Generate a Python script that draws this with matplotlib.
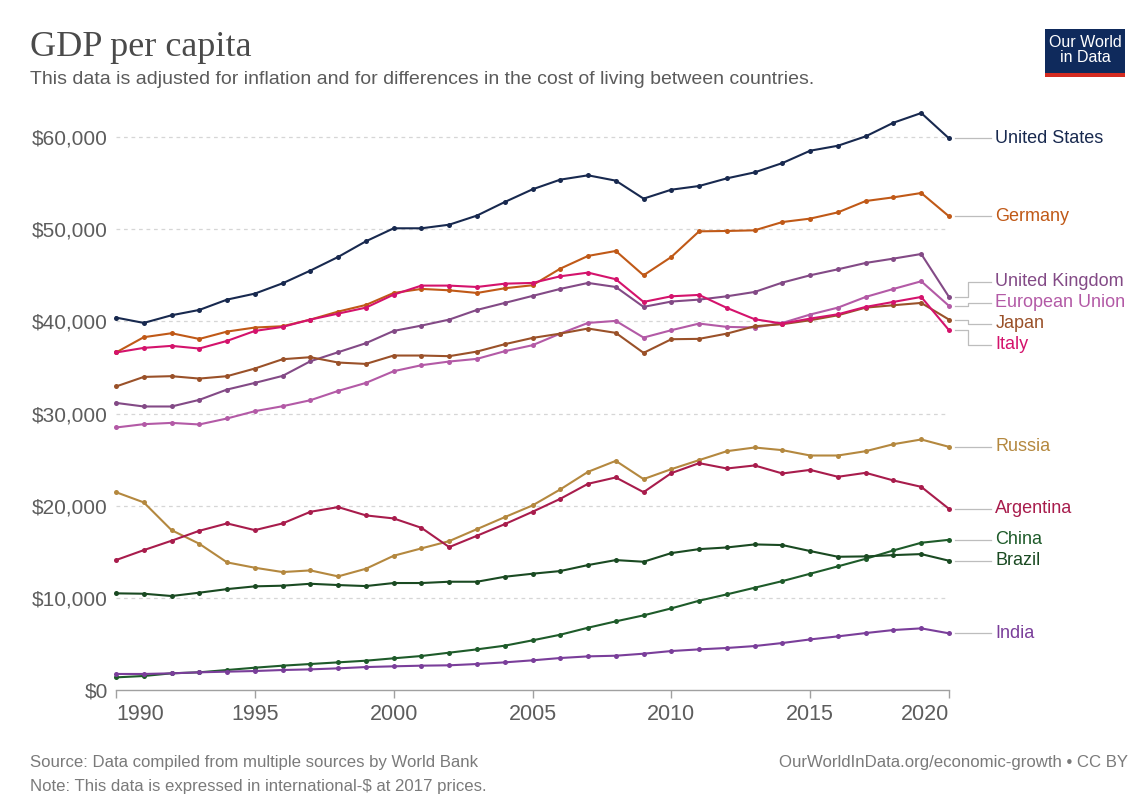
import numpy as np
import matplotlib
matplotlib.use("Agg")
import matplotlib.pyplot as plt
from matplotlib.patches import Rectangle

years = list(range(1990, 2021))

united_states = [40420, 39840, 40670, 41250, 42370, 43020, 44140, 45520, 47000, 48700,
                 50110, 50110, 50500, 51490, 52960, 54340, 55390, 55860, 55280, 53330,
                 54300, 54700, 55530, 56180, 57190, 58530, 59070, 60090, 61570, 62620, 59870]
germany = [36630, 38290, 38720, 38100, 38900, 39340, 39480, 40200, 41070, 41790,
           43090, 43530, 43380, 43090, 43600, 43930, 45730, 47110, 47650, 45010,
           47000, 49780, 49820, 49890, 50790, 51160, 51840, 53070, 53470, 53940, 51410]
united_kingdom = [31160, 30770, 30770, 31490, 32610, 33330, 34090, 35680, 36660, 37640,
                  38970, 39550, 40200, 41250, 42010, 42770, 43530, 44180, 43740, 41580,
                  42160, 42370, 42730, 43200, 44220, 45010, 45660, 46350, 46820, 47320, 42660]
european_union = [28490, 28850, 28990, 28820, 29470, 30260, 30800, 31450, 32460, 33330,
                  34600, 35250, 35650, 35940, 36770, 37420, 38680, 39840, 40060, 38250,
                  39050, 39770, 39410, 39340, 39840, 40750, 41500, 42660, 43530, 44360, 41690]
japan = [32940, 33980, 34060, 33800, 34060, 34890, 35900, 36120, 35540, 35390,
         36300, 36300, 36230, 36730, 37530, 38210, 38680, 39230, 38760, 36590,
         38070, 38110, 38680, 39480, 39700, 40130, 40670, 41500, 41760, 42010, 40200]
italy = [36630, 37130, 37350, 37060, 37890, 38970, 39410, 40200, 40850, 41500,
         42910, 43890, 43890, 43740, 44100, 44180, 44900, 45300, 44580, 42120,
         42730, 42880, 41470, 40240, 39770, 40310, 40780, 41580, 42120, 42660, 39050]
russia = [21470, 20360, 17350, 15870, 13850, 13270, 12800, 12980, 12330, 13160,
          14570, 15370, 16160, 17460, 18760, 20030, 21770, 23680, 24870, 22890,
          23970, 24950, 25920, 26320, 26030, 25450, 25450, 25920, 26680, 27190, 26390]
argentina = [14100, 15180, 16200, 17280, 18080, 17350, 18080, 19340, 19850, 18950,
             18620, 17600, 15510, 16740, 18000, 19340, 20750, 22380, 23070, 21470,
             23540, 24620, 24040, 24370, 23500, 23890, 23140, 23570, 22740, 22050, 19660]
china = [1370, 1520, 1810, 1920, 2170, 2420, 2640, 2820, 3000, 3180,
         3440, 3690, 4050, 4410, 4810, 5390, 6000, 6760, 7450, 8100,
         8860, 9690, 10380, 11100, 11820, 12620, 13420, 14240, 15150, 15980, 16300]
brazil = [10490, 10450, 10200, 10560, 10950, 11250, 11320, 11530, 11390, 11280,
          11610, 11610, 11750, 11750, 12290, 12620, 12910, 13560, 14100, 13920,
          14860, 15290, 15470, 15800, 15730, 15080, 14460, 14500, 14640, 14750, 14030]
india = [1740, 1740, 1810, 1920, 1990, 2060, 2170, 2240, 2350, 2490,
         2570, 2640, 2680, 2820, 3000, 3220, 3470, 3650, 3720, 3940,
         4230, 4410, 4560, 4770, 5100, 5490, 5820, 6180, 6510, 6690, 6150]

countries = ["United States", "Germany", "United Kingdom", "European Union", "Japan",
             "Italy", "Russia", "Argentina", "China", "Brazil", "India"]
series = [united_states, germany, united_kingdom, european_union, japan,
          italy, russia, argentina, china, brazil, india]
colors = ["#18294f", "#c05917", "#834a86", "#b35aa6", "#9a5129",
          "#d4136c", "#b4883f", "#a81c4c", "#1e5b2a", "#1a4a22", "#7a3e9a"]

y_ticks = [0, 10000, 20000, 30000, 40000, 50000, 60000]
x_ticks = [1990, 1995, 2000, 2005, 2010, 2015, 2020]

plt.rcParams["font.family"] = ["Liberation Sans", "DejaVu Sans"]

fig = plt.figure(figsize=(11.35, 8.01), dpi=100)
fig.patch.set_facecolor("white")
ax = fig.add_axes([116 / 1135, 111 / 801, 833 / 1135, 586 / 801])

for vals, col in zip(series, colors):
    ax.plot(years, vals, color=col, lw=1.5, marker="o", ms=3.6,
            markeredgewidth=0, clip_on=False, zorder=3)

ax.set_xlim(1990, 2020)
ax.set_ylim(0, 63600)

# grid and axes styling
for v in y_ticks[1:]:
    ax.axhline(v, color="#d6d6d6", lw=0.9, ls=(0, (3, 3)), zorder=1)
for s in ["top", "right", "left"]:
    ax.spines[s].set_visible(False)
ax.spines["bottom"].set_color("#a0a0a0")
ax.spines["bottom"].set_linewidth(1.0)

ax.set_yticks(y_ticks)
ax.set_yticklabels([f"${v:,}" for v in y_ticks])
ax.tick_params(axis="y", length=0, pad=6, labelsize=15, labelcolor="#5d5d5d")
ax.set_xticks(x_ticks)
ax.set_xticklabels([str(x) for x in x_ticks])
ax.tick_params(axis="x", length=6, width=1, color="#a0a0a0", pad=4,
               labelsize=15.5, labelcolor="#5d5d5d")
xl = ax.get_xticklabels()
xl[0].set_horizontalalignment("left")
xl[-1].set_horizontalalignment("right")

# end-of-line labels with simple vertical dodging
ends = [s[-1] for s in series]
gap = 2280


def group_top(g):
    return np.mean([ends[i] for i in g]) + gap * (len(g) - 1) / 2


groups = [[i] for i in sorted(range(len(ends)), key=lambda i: -ends[i])]
changed = True
while changed:
    changed = False
    merged = [groups[0]]
    for g in groups[1:]:
        pg = merged[-1]
        pbottom = group_top(pg) - gap * (len(pg) - 1)
        if pbottom - group_top(g) < gap - 1e-6:
            merged[-1] = pg + g
            changed = True
        else:
            merged.append(g)
    groups = merged

pos = {}
for g in groups:
    top = group_top(g)
    for k, i in enumerate(g):
        pos[i] = top - gap * k

x_end = years[-1]
x0, xm, x1, xt = x_end + 0.22, x_end + 0.68, x_end + 1.5, x_end + 1.67
for i, name in enumerate(countries):
    ye, yl = ends[i], pos[i]
    if abs(ye - yl) < 300:
        ax.plot([x0, x1], [ye, ye], color="#bdbdbd", lw=0.9, clip_on=False)
    else:
        ax.plot([x0, xm, xm, x1], [ye, ye, yl, yl], color="#bdbdbd", lw=0.9,
                clip_on=False)
    ax.text(xt, yl, name, color=colors[i], fontsize=13, va="center", ha="left",
            clip_on=False)

# header
fig.text(30 / 1135, 1 - 47 / 801, "GDP per capita", fontsize=26,
         family=["Liberation Serif", "DejaVu Serif"], color="#4a4a4a", va="center")
fig.text(30 / 1135, 1 - 80 / 801,
         "This data is adjusted for inflation and for differences in the cost of living between countries.",
         fontsize=14, color="#5b5b5b", va="center")

# logo
lx, ly, lw_, lh = 1045 / 1135, 1 - 77 / 801, 80 / 1135, 48 / 801
fig.patches.append(Rectangle((lx, ly + 4 / 801), lw_, lh - 4 / 801,
                             transform=fig.transFigure, facecolor="#0f2a5c",
                             edgecolor="none"))
fig.patches.append(Rectangle((lx, ly), lw_, 4 / 801, transform=fig.transFigure,
                             facecolor="#d42b21", edgecolor="none"))
fig.text(lx + lw_ / 2, ly + 27 / 801, "Our World\nin Data", color="white",
         fontsize=11.5, ha="center", va="center", linespacing=0.95)

# footer
fig.text(30 / 1135, 1 - 762 / 801,
         "Source: Data compiled from multiple sources by World Bank",
         fontsize=12.1, color="#7a7a7a", va="center")
fig.text(30 / 1135, 1 - 786 / 801,
         "Note: This data is expressed in international-$ at 2017 prices.",
         fontsize=12.1, color="#7a7a7a", va="center")
fig.text(1128 / 1135, 1 - 762 / 801,
         "OurWorldInData.org/economic-growth \u2022 CC BY",
         fontsize=12.1, color="#7a7a7a", va="center", ha="right")

fig.savefig("out.png", dpi=100, facecolor="white")
